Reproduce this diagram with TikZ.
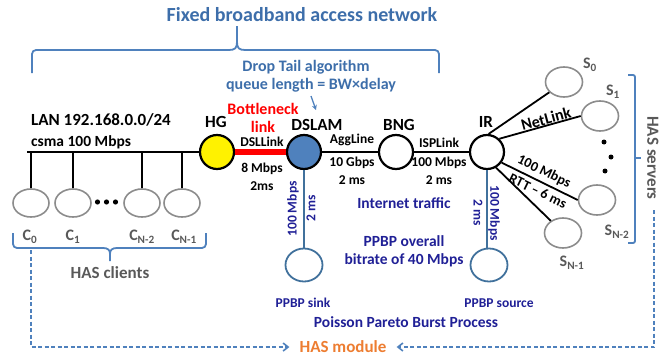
\documentclass[tikz,border=0pt]{standalone}
\usepackage{fontspec}
\setmainfont{Carlito}
\usetikzlibrary{shapes.geometric,arrows.meta}
\definecolor{tblue}{RGB}{61,110,170}
\definecolor{bblue}{RGB}{79,129,189}
\definecolor{lblue}{RGB}{65,113,156}
\definecolor{navy}{RGB}{32,32,150}
\definecolor{hasorange}{RGB}{237,125,49}
\definecolor{dgray}{RGB}{89,89,89}
\definecolor{cgray}{RGB}{140,140,140}
\begin{document}
\begin{tikzpicture}[x=1pt,y=-1pt,
  fs/.style={font=\fontsize{#1}{#1}\selectfont\bfseries},
  txt/.style={inner sep=0pt, align=center},
  host/.style={ellipse, draw=cgray, line width=1.6pt, minimum width=37pt, minimum height=30pt, inner sep=0pt},
  client/.style={host, minimum width=36pt, minimum height=28pt},
  router/.style={circle, draw=black, line width=2.2pt, minimum size=34pt, inner sep=0pt},
  ppbp/.style={ellipse, draw=lblue, line width=1.8pt, minimum width=37pt, minimum height=33pt, inner sep=0pt},
  wire/.style={line width=1.8pt},
  bwire/.style={line width=1.8pt, draw=lblue},
  bracestyle/.style={line width=1.8pt, draw=bblue, rounded corners=4pt},
  bracetip/.style={line width=1.8pt, draw=bblue},
  dashedarrow/.style={line width=1.6pt, draw=bblue, dash pattern=on 4pt off 2.5pt, -{Straight Barb[length=5pt,width=8pt]}},
]
\useasboundingbox (0,0) rectangle (672,356);

% ---- title and top brace
\node[txt, fs=20, text=tblue] (title) at (302,15) {Fixed broadband access network};
\draw[bracestyle] (32,73) -- (32,50) -- (229,50);
\draw[bracestyle] (439,73) -- (439,50) -- (245,50);
\draw[bracetip] (229,50) .. controls (235,50) and (237,48) .. (237,42) -- (237,26);
\draw[bracetip] (245,50) .. controls (239,50) and (237,48) .. (237,42);

\node[txt, fs=16, text=tblue] (drop1) at (306,67) {Drop Tail algorithm};
\node[txt, fs=16, text=tblue] (drop2) at (311,85) {queue length = BW×delay};
\coordinate (arrS) at (311,96);
\coordinate (arrE) at (316,110);
\draw[bblue, line width=1.3pt, -{Stealth[length=5pt,width=5pt]}] (arrS) -- (arrE);

% ---- routers
\node[router, fill=yellow] (hg) at (217,152) {};
\node[router, fill=bblue] (dslam) at (304,152) {};
\node[router, fill=white] (bng) at (396,152) {};
\node[router, fill=white] (ir) at (487,152) {};

% ---- clients
\node[client] (c0) at (31,203) {};
\node[client] (c1) at (73,203) {};
\node[client] (cn2) at (142,203) {};
\node[client] (cn1) at (182,203) {};
\coordinate (busL) at (27,152);
\draw[wire] (busL) -- (hg);
\draw[wire] (c0.north) -- (c0.north |- busL);
\draw[wire] (c1.north) -- (c1.north |- busL);
\draw[wire] (cn2.north) -- (cn2.north |- busL);
\draw[wire] (cn1.north) -- (cn1.north |- busL);
\fill (97.5,202) circle (2.6pt) (106.5,202) circle (2.6pt) (115.5,202) circle (2.6pt);

% ---- servers
\node[host] (s0) at (564,82) {};
\node[host] (s1) at (600,116) {};
\node[host] (sn2) at (597,200) {};
\node[host] (sn1) at (563,233) {};
\fill (604,142) circle (2.5pt) (611,157) circle (2.5pt) (605,171) circle (2.5pt);

% ---- PPBP
\node[ppbp] (sink) at (304,265) {};
\node[ppbp] (src) at (489,265) {};

% ---- links
\draw[line width=6pt, red] (hg) -- (dslam);
\draw[wire] (dslam) -- (bng);
\draw[wire] (bng) -- (ir);
\draw[wire] (ir.85) -- (s0.215);
\draw[wire] (ir.47) -- (s1.west);
\draw[wire] (ir.-36) -- (sn2.west);
\draw[wire] (ir.-60) -- (sn1.135);
\draw[bwire] (dslam) -- (sink);
\draw[bwire] (ir.south) -- (ir.south |- src.north);

% ---- labels (black)
\node[txt, fs=17, anchor=west] (lan) at (31,120) {LAN 192.168.0.0/24};
\node[txt, fs=15.5, anchor=west] (csma) at (31,142) {csma 100 Mbps};
\node[txt, fs=17] (hgl) at (216,122) {HG};
\node[txt, fs=16, text=red] (bn1) at (263,109) {Bottleneck};
\node[txt, fs=16, text=red] (bn2) at (263,127) {link};
\node[txt, fs=13.5] (dsll) at (262,142) {DSLLink};
\node[txt, fs=13.5] (dslr) at (262,169) {8 Mbps};
\node[txt, fs=13.5] (dsld) at (262,186) {2ms};
\node[txt, fs=17] (dslaml) at (317,125) {DSLAM};
\node[txt, fs=13.5] (aggl) at (352,140) {AggLine};
\node[txt, fs=13.5] (aggr) at (352,163) {10 Gbps};
\node[txt, fs=13.5] (aggd) at (352,180) {2 ms};
\node[txt, fs=17] (bngl) at (399,125) {BNG};
\node[txt, fs=13.5] (ispl) at (439,143) {ISPLink};
\node[txt, fs=13.5] (ispr) at (439,163) {100 Mbps};
\node[txt, fs=13.5] (ispd) at (439,180) {2 ms};
\node[txt, fs=17] (irl) at (486,122) {IR};
\node[txt, fs=16, rotate=15] (netl) at (546,119) {NetLink};
\node[txt, fs=14, rotate=-26] (irr) at (544,172) {100 Mbps};
\node[txt, fs=14, rotate=-26] (ird) at (538,191) {RTT – 6 ms};

% ---- client / server labels
\node[txt, fs=16, text=dgray] (c0l) at (30,237) {C\textsubscript{0}};
\node[txt, fs=16, text=dgray] (c1l) at (73,237) {C\textsubscript{1}};
\node[txt, fs=16, text=dgray] (cn2l) at (142,237) {C\textsubscript{N-2}};
\node[txt, fs=16, text=dgray] (cn1l) at (184,237) {C\textsubscript{N-1}};
\node[txt, fs=16, text=dgray] (s0l) at (590,65) {S\textsubscript{0}};
\node[txt, fs=16, text=dgray] (s1l) at (613,92) {S\textsubscript{1}};
\node[txt, fs=16, text=dgray] (sn2l) at (617,232) {S\textsubscript{N-2}};
\node[txt, fs=16, text=dgray] (sn1l) at (572,263) {S\textsubscript{N-1}};

% ---- client brace
\draw[bracestyle] (13,233) -- (13,248) -- (103,248);
\draw[bracestyle] (206,233) -- (206,248) -- (117,248);
\draw[bracetip] (103,248) .. controls (108,248) and (110,250) .. (110,254) -- (110,261);
\draw[bracetip] (117,248) .. controls (112,248) and (110,250) .. (110,254);
\node[txt, fs=17, text=dgray] (hascl) at (110,273) {HAS clients};

% ---- server bracket
\draw[bracestyle, rounded corners=2pt] (628,75) -- (635,75) -- (635,243) -- (628,243);
\draw[bracetip] (635,158) -- (641,158);
\node[txt, fs=17, text=dgray, rotate=-90] (hassv) at (653,158) {HAS servers};

% ---- PPBP labels
\node[txt, fs=13.5, text=navy, rotate=90] (skr) at (293,209) {100 Mbps};
\node[txt, fs=13.5, text=navy, rotate=90] (skd) at (311,208) {2 ms};
\node[txt, fs=13.5, text=navy, rotate=-90] (srr) at (494,213) {100 Mbps};
\node[txt, fs=13.5, text=navy, rotate=-90] (srd) at (478,213) {2 ms};
\node[txt, fs=15.5, text=navy] (inet) at (404,203) {Internet traffic};
\node[txt, fs=15.5, text=navy] (ov1) at (404,241) {PPBP overall};
\node[txt, fs=15.5, text=navy] (ov2) at (404,260) {bitrate of 40 Mbps};
\node[txt, fs=13.5, text=navy] (sinkl) at (303,303) {PPBP sink};
\node[txt, fs=13.5, text=navy] (srcl) at (499,303) {PPBP source};
\node[txt, fs=15.5, text=navy] (ppbpl) at (406,322) {Poisson Pareto Burst Process};

% ---- HAS module
\node[txt, fs=17, text=hasorange, inner xsep=10pt] (hasmod) at (343,347) {HAS module};
\coordinate (dashL) at (31,250);
\coordinate (dashR) at (654,210);
\draw[dashedarrow] (dashL) |- (hasmod.west);
\draw[dashedarrow] (dashR) |- (hasmod.east);
\end{tikzpicture}
\end{document}
